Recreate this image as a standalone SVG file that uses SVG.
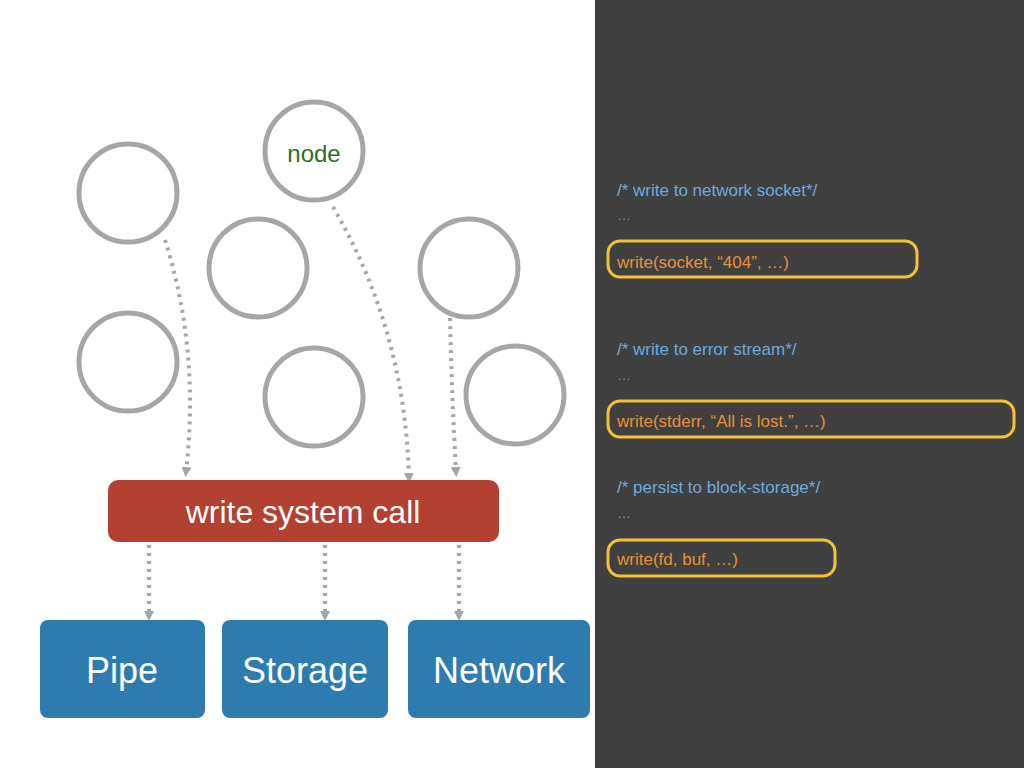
<svg xmlns="http://www.w3.org/2000/svg" width="1024" height="768" viewBox="0 0 1024 768">
<defs>
<style>
.c{fill:none;stroke:#a6a6a6;stroke-width:5}
.e{fill:none;stroke:#a6a6a6;stroke-width:4;stroke-dasharray:3 5;marker-end:url(#a)}
.b{fill:#2e7bb0}
.bt{font-family:"Liberation Sans",Arial,sans-serif;font-size:36px;fill:#fff;text-anchor:middle}
.cm{font-family:"Liberation Sans",Arial,sans-serif;font-size:17px;fill:#6fa8dc}
.cd{font-family:"Liberation Sans",Arial,sans-serif;font-size:17px;fill:#e69138}
.dt{font-family:"Liberation Sans",Arial,sans-serif;font-size:14px;fill:#888}
.h{fill:none;stroke:#f1c232;stroke-width:3}
</style>
<marker id="a" markerWidth="10" markerHeight="10" refX="5" refY="5" orient="auto" markerUnits="userSpaceOnUse"><path d="M0,0 L10,5 L0,10 Z" fill="#a6a6a6"/></marker>
</defs>
<rect width="1024" height="768" fill="#fff"/>
<rect x="595" y="0" width="429" height="768" fill="#404040"/>
<g id="circles">
<circle class="c" cx="128" cy="193" r="49"/>
<circle class="c" cx="314" cy="151" r="49"/>
<circle class="c" cx="258" cy="268" r="49"/>
<circle class="c" cx="469" cy="268" r="49"/>
<circle class="c" cx="128" cy="362" r="49"/>
<circle class="c" cx="314" cy="397" r="49"/>
<circle class="c" cx="515" cy="395" r="49"/>
<text x="314" y="162" font-family="'Liberation Sans',Arial,sans-serif" font-size="24" fill="#2a6e1e" text-anchor="middle">node</text>
</g>
<g id="connectors">
<path class="e" d="M165,240 Q200,350 186,472"/>
<path class="e" d="M333,207 Q405,330 409,478"/>
<path class="e" d="M450,318 Q452,400 456,472"/>
<path class="e" d="M149,545 L149,616"/>
<path class="e" d="M325,545 L325,616"/>
<path class="e" d="M459,545 L459,616"/>
</g>
<g id="syscall">
<rect x="108" y="480" width="391" height="62" rx="10" fill="#b24131"/>
<text x="303" y="523" font-family="'Liberation Sans',Arial,sans-serif" font-size="32" fill="#fff" text-anchor="middle">write system call</text>
</g>
<g id="pipe"><rect class="b" x="40" y="620" width="165" height="98" rx="8"/><text class="bt" x="122" y="683">Pipe</text></g>
<g id="storage"><rect class="b" x="222" y="620" width="166" height="98" rx="8"/><text class="bt" x="305" y="683">Storage</text></g>
<g id="network"><rect class="b" x="408" y="620" width="182" height="98" rx="8"/><text class="bt" x="499" y="683">Network</text></g>
<g id="code">
<text class="cm" x="617" y="196">/* write to network socket*/</text>
<text class="dt" x="617" y="220">…</text>
<rect class="h" x="608" y="241" width="309" height="36" rx="12"/>
<text class="cd" x="617" y="268">write(socket, “404”, …)</text>
<text class="cm" x="617" y="355">/* write to error stream*/</text>
<text class="dt" x="617" y="380">…</text>
<rect class="h" x="608" y="401" width="406" height="36" rx="12"/>
<text class="cd" x="617" y="427">write(stderr, “All is lost.”, …)</text>
<text class="cm" x="617" y="493">/* persist to block-storage*/</text>
<text class="dt" x="617" y="518">…</text>
<rect class="h" x="608" y="540" width="227" height="36" rx="12"/>
<text class="cd" x="617" y="565">write(fd, buf, …)</text>
</g>
</svg>
